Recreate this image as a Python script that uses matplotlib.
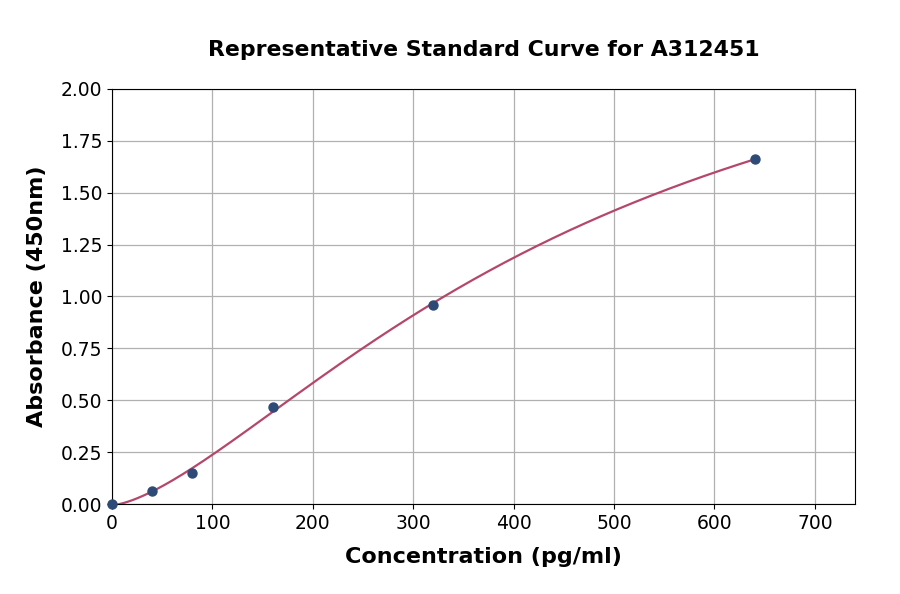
import numpy as np
import matplotlib
matplotlib.use("Agg")
from matplotlib import pyplot as plt

# standard points
conc = np.array([0, 40, 80, 160, 320, 640], dtype=float)
absorb = np.array([0.0, 0.063, 0.149, 0.467, 0.959, 1.663])


def four_pl(x, p):
    a, b, c, d = p
    return d + (a - d) / (1.0 + (np.maximum(x, 1e-9) / c) ** b)


# small Levenberg-Marquardt fit, no scipy here
p = np.array([-0.02, 1.6, 400.0, 2.5])
lam = 1e-2
for it in range(500):
    r = absorb - four_pl(conc, p)
    J = np.zeros((len(conc), 4))
    for k in range(4):
        dp = np.zeros(4)
        dp[k] = 1e-6 * max(abs(p[k]), 1.0)
        J[:, k] = (four_pl(conc, p + dp) - four_pl(conc, p)) / dp[k]
    A = J.T @ J
    g = J.T @ r
    step = np.linalg.solve(A + lam * np.diag(np.diag(A)), g)
    pn = p + step
    if pn[2] > 0 and np.sum((absorb - four_pl(conc, pn)) ** 2) < np.sum(r ** 2):
        p = pn
        lam *= 0.5
    else:
        lam *= 3

xs = np.linspace(0, 640, 400)

fig = plt.figure(figsize=(9, 5.94), dpi=100)
ax = fig.add_axes([0.1244, 0.1515, 0.8256, 0.6987])
ax.plot(xs, four_pl(xs, p), color="#b5476b", lw=1.6, zorder=2)
ax.scatter(conc, absorb, s=42, color="#2d4b76", zorder=3, clip_on=False)

ax.set_xlim(0, 740)
ax.set_ylim(0, 2.0)
ax.set_xticks(range(0, 701, 100))
ax.set_yticks(np.arange(0, 2.01, 0.25))
ax.yaxis.set_major_formatter(matplotlib.ticker.FormatStrFormatter("%.2f"))
ax.grid(True, color="#b0b0b0", lw=0.9)
ax.set_axisbelow(True)
ax.tick_params(labelsize=13.5)

ax.set_title("Representative Standard Curve for A312451", fontsize=15.8,
             fontweight="bold", pad=24)
ax.set_xlabel("Concentration (pg/ml)", fontsize=16, fontweight="bold", labelpad=10)
ax.set_ylabel("Absorbance (450nm)", fontsize=16, fontweight="bold", labelpad=10)

fig.savefig("out.png", dpi=100)
